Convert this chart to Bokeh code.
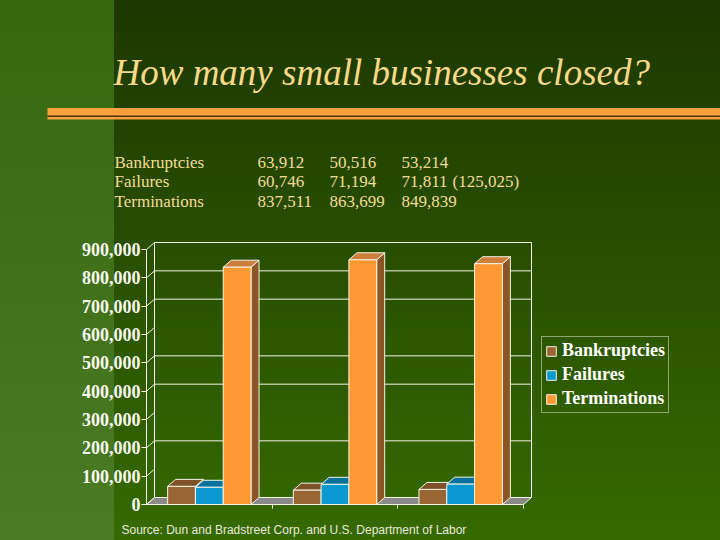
from bokeh.plotting import figure
from bokeh.models import (Range1d, LinearAxis, FixedTicker, NumeralTickFormatter,
                          Legend, LegendItem)
from bokeh.core.properties import value
from bokeh.embed import file_html
from bokeh.resources import INLINE

# ---------------- data ----------------
groups = [0, 1, 2]
series_names = ["Bankruptcies", "Failures", "Terminations"]
bankruptcies = [63912, 50516, 53214]
failures = [60746, 71194, 71811]
terminations = [837511, 863699, 849839]
failures_note = "(125,025)"
y_ticks = [0, 100000, 200000, 300000, 400000, 500000, 600000, 700000, 800000, 900000]
grid_values = [200000, 400000, 500000, 700000, 800000]   # back-wall lines visible in the picture
y_max = 900000
title_text = "How many small businesses closed?"
source_text = "Source: Dun and Bradstreet Corp. and U.S. Department of Labor"

# ---------------- layout / styling ----------------
W, H = 720, 540
OX, OY = 0, 0                         # reference px -> canvas px offsets


def cx(rx):
    return rx - OX


def cy(ry):
    return ry - OY


FRONT_L, FRONT_R = cx(146), cx(523)  # front plane of the chart, canvas x
ZERO_Y = cy(504)                      # canvas y of value 0 on the front plane
PPX = (FRONT_R - FRONT_L) / 3         # px per category
PPY = 255 / y_max                     # px per unit value
DX = 8 / PPX
DY = 7 / PPY
BAR_W = 27.8 / PPX
series_values = [bankruptcies, failures, terminations]
front_colors = ["#996633", "#0a99d0", "#ff9933"]
top_colors = ["#7d5228", "#07739c", "#cc7f3c"]
side_colors = ["#6e4620", "#06607f", "#8b5524"]
edge = "#f4f4e8"
text_yellow = "#f2dc96"

bg_css = ("linear-gradient(to bottom, #366810, #4b7b24) 0px 0px / %dpx 100%% no-repeat, "
          "linear-gradient(to bottom, #1d3700, #366a00)" % cx(114))

p = figure(width=W, height=H, output_backend="svg", toolbar_location=None,
           x_range=Range1d(-0.5 - FRONT_L / PPX, -0.5 + (W - FRONT_L) / PPX),
           y_range=Range1d(-(H - ZERO_Y) / PPY, ZERO_Y / PPY),
           x_axis_type=None, y_axis_type=None, title=None,
           min_border_left=0, min_border_right=0, min_border_top=0, min_border_bottom=0)
p.extra_x_ranges = {"px": Range1d(0, W)}
p.extra_y_ranges = {"py": Range1d(H, 0)}
p.outline_line_color = None
p.background_fill_alpha = 0
p.border_fill_alpha = 0
p.grid.visible = False
p.styles = {"background": bg_css}

# ---------------- heading ----------------
p.quad(left=[cx(47)], right=[W], top=[cy(107.5)], bottom=[cy(119)],
       fill_color="#f9a03f", line_color=None, x_range_name="px", y_range_name="py")
p.quad(left=[cx(47)], right=[W], top=[cy(115)], bottom=[cy(116.4)],
       fill_color="#4a3208", line_color=None, x_range_name="px", y_range_name="py")
p.text(x=[cx(113)], y=[cy(72)], text=[title_text], text_font=value("Liberation Serif"),
       text_font_style="italic", text_font_size="37px", text_color="#f8d98a",
       text_baseline="alphabetic", x_range_name="px", y_range_name="py")

row_y = [cy(161.5), cy(181), cy(200.5)]
col_x = [cx(257), cx(329), cx(401)]
tx, ty, tt = [], [], []
for ri, (name, vals) in enumerate(zip(series_names, series_values)):
    tx.append(cx(114)); ty.append(row_y[ri]); tt.append(name)
    for ci, v in enumerate(vals):
        tx.append(col_x[ci]); ty.append(row_y[ri]); tt.append(f"{v:,}")
tx.append(cx(452)); ty.append(row_y[1]); tt.append(failures_note)
p.text(x=tx, y=ty, text=tt, text_font=value("Liberation Serif"), text_font_size="17px",
       text_color=text_yellow, text_baseline="middle", x_range_name="px", y_range_name="py")

p.text(x=[cx(121)], y=[cy(529)], text=[source_text],
       text_font=value("Liberation Sans"), text_font_size="12px", text_color="#e8e8dc",
       text_baseline="middle", x_range_name="px", y_range_name="py")

# ---------------- axes ----------------
yaxis = LinearAxis(ticker=FixedTicker(ticks=y_ticks), formatter=NumeralTickFormatter(format="0,0"),
                   bounds=(0, y_max), fixed_location=-0.5)
yaxis.axis_line_color = edge
yaxis.major_tick_line_color = edge
yaxis.major_tick_out = 5
yaxis.major_tick_in = 0
yaxis.minor_tick_line_color = None
yaxis.major_label_standoff = 1
yaxis.major_label_text_font = "Liberation Serif"
yaxis.major_label_text_font_style = "bold"
yaxis.major_label_text_font_size = "18px"
yaxis.major_label_text_color = "#f7f7ee"
p.add_layout(yaxis, "left")

xaxis = LinearAxis(ticker=FixedTicker(ticks=[0.5, 1.5, 2.5]), bounds=(-0.5, 2.5),
                   fixed_location=0)
xaxis.axis_line_color = edge
xaxis.major_tick_line_color = edge
xaxis.major_tick_out = 4
xaxis.major_tick_in = 0
xaxis.minor_tick_line_color = None
xaxis.major_label_text_color = None
p.add_layout(xaxis, "below")

# ---------------- 3D walls ----------------
x_left, x_right = -0.5, 2.5
p.patch([x_left, x_right, x_right + DX, x_left + DX], [0, 0, DY, DY],
        fill_color="#8a8a8a", line_color=edge, line_width=1)
p.segment(x0=[x_left] * len(y_ticks), y0=y_ticks,
          x1=[x_left + DX] * len(y_ticks), y1=[v + DY for v in y_ticks],
          line_color=edge, line_width=1)
p.segment(x0=[x_left + DX] * len(grid_values), y0=[v + DY for v in grid_values],
          x1=[x_right + DX] * len(grid_values), y1=[v + DY for v in grid_values],
          line_color=edge, line_width=1)
p.line([x_left + DX, x_left + DX, x_right + DX, x_right + DX],
       [DY, y_max + DY, y_max + DY, DY], line_color=edge, line_width=1)

# ---------------- bars ----------------
legend_items = []
for si, (name, vals) in enumerate(zip(series_names, series_values)):
    off = (si - 1) * BAR_W
    x0 = [g + off - BAR_W / 2 for g in groups]
    x1 = [g + off + BAR_W / 2 for g in groups]
    p.patches(xs=[[b, b + DX, b + DX, b] for b in x1],
              ys=[[0, DY, v + DY, v] for v in vals],
              fill_color=side_colors[si], line_color=edge, line_width=1)
    p.patches(xs=[[a, b, b + DX, a + DX] for a, b in zip(x0, x1)],
              ys=[[v, v, v + DY, v + DY] for v in vals],
              fill_color=top_colors[si], line_color=edge, line_width=1)
    r = p.quad(left=x0, right=x1, bottom=0, top=vals,
               fill_color=front_colors[si], line_color=edge, line_width=1)
    legend_items.append(LegendItem(label=name, renderers=[r]))

legend = Legend(items=legend_items, location=(cx(541), H - cy(413)))
legend.background_fill_alpha = 0
legend.border_line_color = edge
legend.border_line_width = 1
legend.label_text_font = "Liberation Serif"
legend.label_text_font_style = "bold"
legend.label_text_font_size = "18px"
legend.label_text_color = "#ffffff"
legend.glyph_width = 12
legend.glyph_height = 12
legend.label_standoff = 5
legend.label_height = 18
legend.spacing = 3
legend.padding = 3
legend.margin = 0
p.add_layout(legend)

open("out.html", "w").write(file_html(p, INLINE))
